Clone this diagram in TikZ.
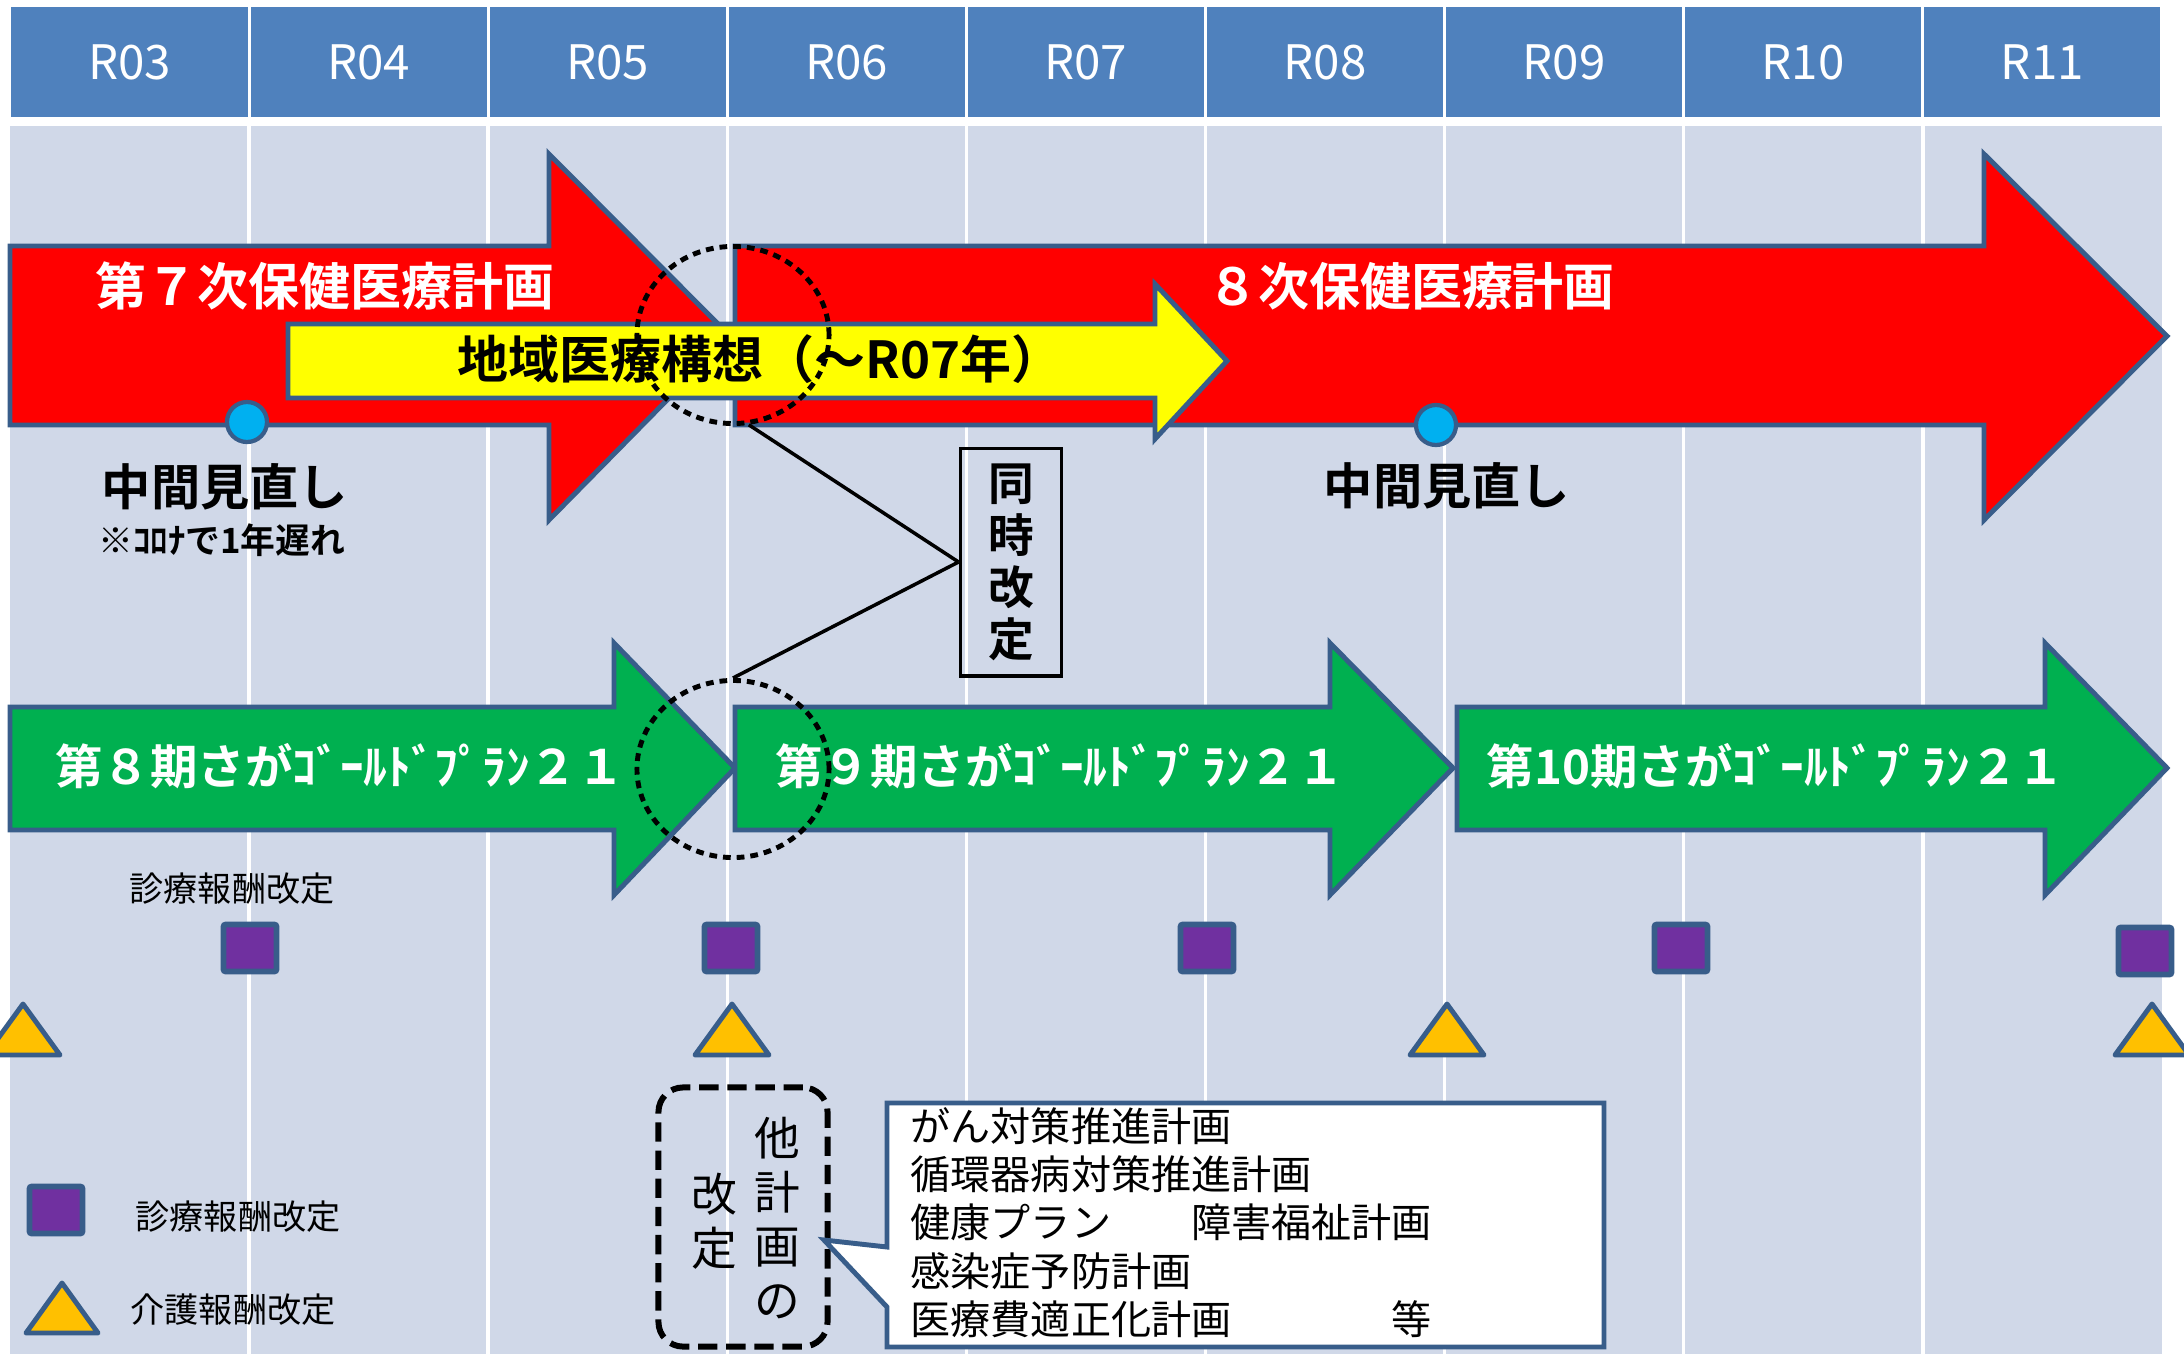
\documentclass[tikz,border=0pt]{standalone}
\usepackage{fontspec}
\setmainfont{Noto Sans CJK JP}[BoldFont={Noto Sans CJK JP Bold}]
\usepackage{tikz}
\usetikzlibrary{shapes.geometric, calc, positioning}
\definecolor{entete}{HTML}{4F81BD}
\definecolor{fond}{HTML}{D0D8E8}
\definecolor{bord}{HTML}{385D8A}
\definecolor{rougeplan}{HTML}{FF0000}
\definecolor{vertplan}{HTML}{00B050}
\definecolor{jauneplan}{HTML}{FFFF00}
\definecolor{bleupoint}{HTML}{00B0F0}
\definecolor{pourpre}{HTML}{7030A0}
\definecolor{ambre}{HTML}{FFC000}

\begin{document}
\begin{tikzpicture}[
		x=0.01cm, y=-0.01cm,
		annee/.style={rectangle, fill=entete, text=white, minimum width=2.36cm, minimum height=1.10cm, inner sep=0pt, font=\fontsize{13.5}{16}\selectfont},
		fleche/.style={draw=bord, line width=1.4pt, line join=miter},
		titre/.style={text=white, inner sep=0pt, font=\fontsize{14.5}{17}\selectfont\bfseries},
		plan/.style={text=white, inner sep=0pt, font=\fontsize{13.5}{16}\selectfont\bfseries},
		point/.style={circle, fill=bleupoint, draw=bord, line width=1.2pt, minimum size=0.40cm, inner sep=0pt},
		mitexte/.style={inner sep=0pt, font=\fontsize{14}{16}\selectfont\bfseries},
		anneau/.style={ellipse, draw=black, line width=1.4pt, dash pattern=on 2.2pt off 1.7pt, minimum width=1.92cm, minimum height=1.77cm, inner sep=0pt},
		lien/.style={draw=black, line width=1pt},
		carre/.style={rectangle, fill=pourpre, draw=bord, line width=1.6pt, rounded corners=0.6pt, minimum width=0.53cm, minimum height=0.47cm, inner sep=0pt},
		tri/.style={fill=ambre, draw=bord, line width=1.4pt, line join=round},
		petit/.style={inner sep=0pt, font=\fontsize{9.7}{12}\selectfont},
		]
		\useasboundingbox (0,0) rectangle (2184,1354);
		
		% Le fond et les années
		\fill[fond] (10,126) rectangle (2162,1354);
		\foreach \i in {1,...,8}
			\draw[white, line width=1pt] ({10+239.1*\i},126) -- ({10+239.1*\i},1354);
		\foreach \an [count=\i from 0] in {R03,R04,R05,R06,R07,R08,R09,R10,R11}
			\node[annee] (an\i) at ({129.5+239.1*\i},62) {\an};
		
		% Les plans de santé
		\draw[fleche, fill=rougeplan] (10,246) -- (549,246) -- (549,154) -- (730,336) -- (549,520) -- (549,425) -- (10,425) -- cycle;
		\draw[fleche, fill=rougeplan] (735,246) -- (1984,246) -- (1984,154) -- (2167,336) -- (1984,520) -- (1984,425) -- (735,425) -- cycle;
		\draw[fleche, fill=jauneplan] (288,324) -- (1155,324) -- (1155,284) -- (1227,361) -- (1155,439) -- (1155,398) -- (288,398) -- cycle;
		\node[titre] (plan7) at (325,286) {第７次保健医療計画};
		\node[titre] (plan8) at (1411,286) {８次保健医療計画};
		\node[titre, text=black] (chiiki) at (760,359) {地域医療構想（～R07年）};
		
		% Les plans gold
		\draw[fleche, fill=vertplan] (10,707) -- (614,707) -- (614,643) -- (735,768) -- (614,895) -- (614,830) -- (10,830) -- cycle;
		\draw[fleche, fill=vertplan] (735,707) -- (1330,707) -- (1330,643) -- (1453,768) -- (1330,895) -- (1330,830) -- (735,830) -- cycle;
		\draw[fleche, fill=vertplan] (1457,707) -- (2045,707) -- (2045,643) -- (2167,768) -- (2045,895) -- (2045,830) -- (1457,830) -- cycle;
		\node[plan] (gold8) at (340,766) {第８期さがｺﾞｰﾙﾄﾞﾌﾟﾗﾝ２１};
		\node[plan] (gold9) at (1060,766) {第９期さがｺﾞｰﾙﾄﾞﾌﾟﾗﾝ２１};
		\node[plan] (gold10) at (1776,766) {第10期さがｺﾞｰﾙﾄﾞﾌﾟﾗﾝ２１};
		
		% Les mi-parcours
		\node[point] (mi1) at (247,422) {};
		\node[point] (mi2) at (1436,425) {};
		\node[mitexte] (mitxt1) at (225,487) {中間見直し};
		\node[mitexte] (mitxt2) at (1447,486) {中間見直し};
		\node[inner sep=0pt, font=\fontsize{9.9}{12}\selectfont\bfseries] (corona) at (222,540) {※ｺﾛﾅで1年遅れ};
		
		% Les révisions simultanées
		\node[anneau] (cercle1) at (733,335) {};
		\node[anneau] (cercle2) at (733,769) {};
		\node[draw=black, line width=1.1pt, minimum width=1.01cm, minimum height=2.27cm, inner sep=0pt, align=center, font=\fontsize{13}{14.8}\selectfont\bfseries] (simul) at (1011,562) {同\\時\\改\\定};
		\draw[lien] (cercle1.-80) -- (simul.west);
		\draw[lien] (cercle2.north) -- (simul.west);
		
		% Les révisions des tarifs
		\node[petit] (shinryo) at (232,889) {診療報酬改定};
		\foreach \x/\y [count=\k] in {250/948, 731/948, 1207/948, 1681/948, 2145/951}
			\node[carre] (sq\k) at (\x,\y) {};
		\foreach \x in {23,732,1447,2152}
			\draw[tri] (\x,1004) -- ++(37,51) -- ++(-74,0) -- cycle;
		
		% La légende
		\node[carre] (lgsq) at (56,1210) {};
		\node[petit] (lgsqtxt) at (238,1217) {診療報酬改定};
		\draw[tri] (62,1283) -- (98,1333) -- (26,1333) -- cycle;
		\node[petit] (lgtritxt) at (233,1310) {介護報酬改定};
		
		% Les autres plans
		\node[draw=black, line width=1.7pt, dash pattern=on 5.5pt off 2.5pt, rounded corners=7pt, minimum width=1.69cm, minimum height=2.59cm] (autres) at (743,1217) {};
		\node[inner sep=0pt, align=center, font=\fontsize{13}{15.3}\selectfont] (autcol1) at (777,1218) {他\\計\\画\\の};
		\node[inner sep=0pt, align=center, font=\fontsize{13}{15.3}\selectfont] (autcol2) at (714,1221) {改\\定};
		\draw[fill=white, draw=bord, line width=1.4pt] (887,1103) -- (1604,1103) -- (1604,1347) -- (887,1347) -- (887,1307) -- (824,1240) -- (887,1247) -- cycle;
		\node[anchor=north west, inner sep=0pt, align=left, font=\fontsize{11.4}{13.7}\selectfont] (liste) at (910,1107) {がん対策推進計画\\循環器病対策推進計画\\健康プラン　　障害福祉計画\\感染症予防計画\\医療費適正化計画　　　　等};
	\end{tikzpicture}
\end{document}
